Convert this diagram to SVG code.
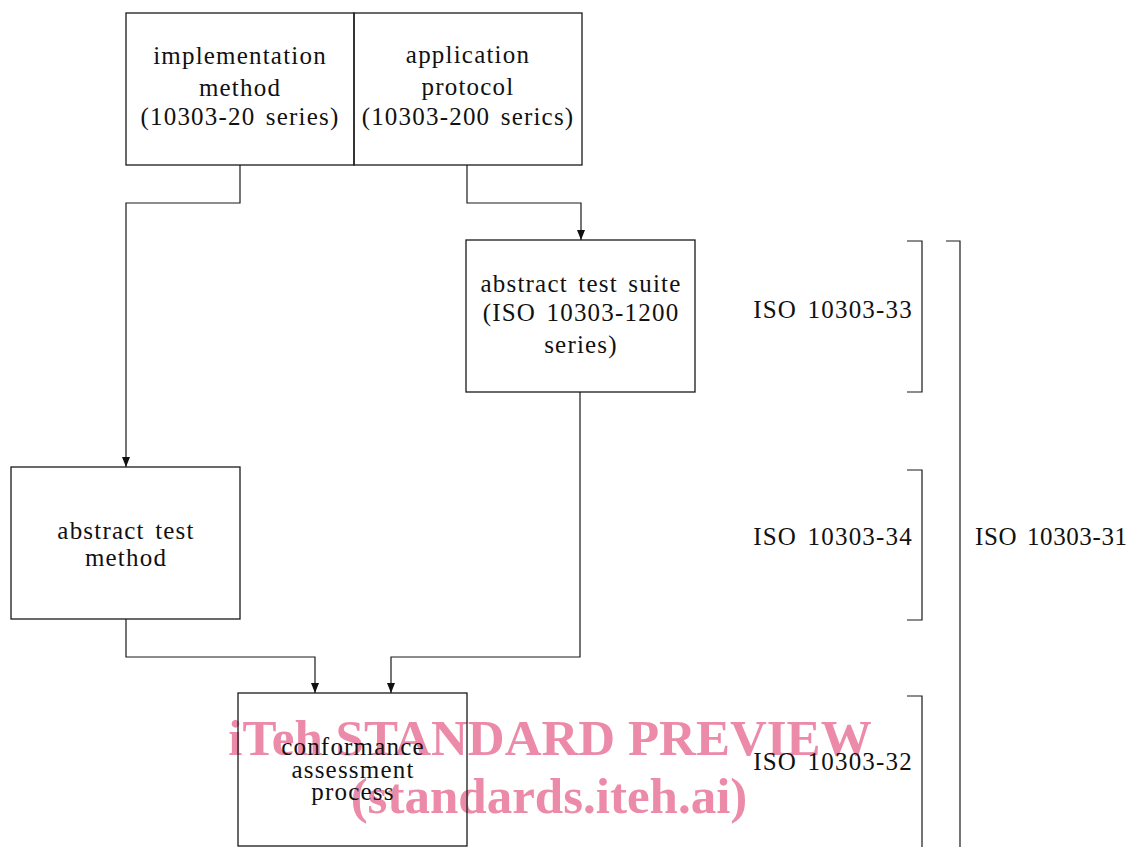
<svg xmlns="http://www.w3.org/2000/svg" width="1132" height="847" viewBox="0 0 1132 847">
<defs>
<style>
.box{fill:none;stroke:#1a1a1a;stroke-width:1.3}
.ln{fill:none;stroke:#1a1a1a;stroke-width:1.2}
.t{font-family:"Liberation Serif","Times New Roman",serif;font-size:25px;fill:#111;letter-spacing:1.2px;word-spacing:3px}
.c{text-anchor:middle}
.r{text-anchor:end}
.wm{font-family:"Liberation Serif","Times New Roman",serif;font-weight:bold;font-size:51px;fill:#ec8aa9;text-anchor:middle}
</style>
<marker id="ah" markerWidth="10" markerHeight="8" refX="10" refY="4" orient="auto" markerUnits="userSpaceOnUse" viewBox="0 0 10 8">
<path d="M0,0 L10,4 L0,8 Z" fill="#111"/>
</marker>
</defs>
<rect width="1132" height="847" fill="#fff"/>
<g id="watermark">
<text class="wm" x="550" y="755">iTeh STANDARD PREVIEW</text>
<text class="wm" x="549" y="813">(standards.iteh.ai)</text>
</g>
<g id="connectors">
<path class="ln" d="M240,165 V203 H126 V467" marker-end="url(#ah)"/>
<path class="ln" d="M467,165 V203 H581 V240" marker-end="url(#ah)"/>
<path class="ln" d="M126,619 V657 H315 V693" marker-end="url(#ah)"/>
<path class="ln" d="M580,392 V657 H391 V693" marker-end="url(#ah)"/>
</g>
<g id="brackets">
<path class="ln" d="M907,241 H922 V392 H907"/>
<path class="ln" d="M907,470 H922 V620 H907"/>
<path class="ln" d="M907,696 H922 V847"/>
<path class="ln" d="M946,241 H960 V847"/>
</g>
<g id="implementation-method">
<rect class="box" x="126" y="13" width="228" height="152"/>
<text class="t c" x="240" y="64">implementation</text>
<text class="t c" x="240" y="96">method</text>
<text class="t c" x="240" y="125">(10303-20 series)</text>
</g>
<g id="application-protocol">
<rect class="box" x="354" y="13" width="228" height="152"/>
<text class="t c" x="468" y="63">application</text>
<text class="t c" x="468" y="95">protocol</text>
<text class="t c" x="468" y="125">(10303-200 serics)</text>
</g>
<g id="abstract-test-suite">
<rect class="box" x="466" y="240" width="229" height="152"/>
<text class="t c" x="581" y="292">abstract test suite</text>
<text class="t c" x="581" y="321">(ISO 10303-1200</text>
<text class="t c" x="581" y="353">series)</text>
</g>
<g id="abstract-test-method">
<rect class="box" x="11" y="467" width="229" height="152"/>
<text class="t c" x="126" y="539">abstract test</text>
<text class="t c" x="126" y="566">method</text>
</g>
<g id="conformance-assessment-process">
<rect class="box" x="238" y="693" width="229" height="153"/>
<text class="t c" x="353" y="755">conformance</text>
<text class="t c" x="353" y="778">assessment</text>
<text class="t c" x="353" y="800">process</text>
</g>
<g id="labels">
<text class="t r" x="913" y="318">ISO 10303-33</text>
<text class="t r" x="913" y="545">ISO 10303-34</text>
<text class="t r" x="913" y="770">ISO 10303-32</text>
<text class="t" x="975" y="545" style="letter-spacing:0" textLength="152" lengthAdjust="spacing">ISO 10303-31</text>
</g>
</svg>
